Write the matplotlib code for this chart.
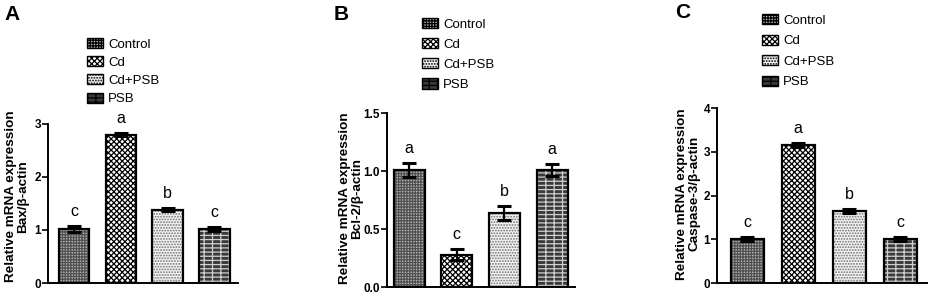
import matplotlib
matplotlib.use("Agg")
import matplotlib.pyplot as plt
import matplotlib.patches as mpatches


groups = ["Control", "Cd", "Cd+PSB", "PSB"]

bax_mean = [1.02, 2.80, 1.38, 1.02]
bax_err = [0.05, 0.03, 0.03, 0.04]
bax_letters = ["c", "a", "b", "c"]

bcl2_mean = [1.01, 0.28, 0.64, 1.01]
bcl2_err = [0.06, 0.05, 0.06, 0.05]
bcl2_letters = ["a", "c", "b", "a"]

casp3_mean = [1.01, 3.16, 1.65, 1.01]
casp3_err = [0.04, 0.04, 0.05, 0.05]
casp3_letters = ["c", "a", "b", "c"]

# face colour, hatch colour, hatch pattern per group
STYLES = [
    ("#b4b4b4", "#505050", "++++++"),
    ("white", "black", "xxxxxx"),
    ("#f4f4f4", "#707070", "......"),
    ("#3a3a3a", "#cfcfcf", "----||"),
]

plt.rcParams["font.family"] = ["Liberation Sans", "DejaVu Sans"]
plt.rcParams["hatch.linewidth"] = 0.9


def draw_panel(fig, rect, means, errs, letters, ylabel, label_xy, ylim, yticks,
               ytick_fmt, xlim, legend_xy, spacing, panel_label, panel_xy):
    ax = fig.add_axes(rect)
    x = list(range(len(groups)))

    for i, (face, hcol, hatch) in enumerate(STYLES):
        ax.bar(x[i], means[i], width=0.65, color=face, edgecolor=hcol,
               hatch=hatch, linewidth=0, zorder=2)
        ax.bar(x[i], means[i], width=0.65, fill=False, edgecolor="black",
               linewidth=1.6, zorder=3)

    ax.errorbar(x, means, yerr=errs, fmt="none", ecolor="black",
                elinewidth=1.6, capsize=5, capthick=2.2, zorder=4)

    for xi, m, e, lab in zip(x, means, errs, letters):
        ax.annotate(lab, (xi, m + e), xytext=(0, 5), textcoords="offset points",
                    ha="center", va="bottom", fontsize=11.5)

    ax.set_xlim(*xlim)
    ax.set_ylim(*ylim)
    ax.set_yticks(yticks)
    ax.set_yticklabels([ytick_fmt.format(t) for t in yticks],
                       fontsize=8.5, fontweight="bold")
    ax.set_xticks([])
    ax.spines["top"].set_visible(False)
    ax.spines["right"].set_visible(False)
    ax.spines["left"].set_linewidth(1.4)
    ax.spines["bottom"].set_linewidth(1.4)
    ax.tick_params(axis="y", direction="out", length=4, width=1.2, pad=1)
    ax.set_ylabel(ylabel, fontsize=9.7, fontweight="bold", linespacing=1.0)
    ax.yaxis.set_label_coords(*label_xy)

    handles = [mpatches.Patch(facecolor=f, edgecolor="black", hatch=h,
                              linewidth=1.0)
               for f, _, h in STYLES]
    fig.legend(handles, groups, loc="upper left", bbox_to_anchor=legend_xy,
               frameon=False, fontsize=9.5, handlelength=1.2,
               handleheight=0.8, handletextpad=0.4, labelspacing=spacing,
               borderpad=0, borderaxespad=0)

    fig.text(panel_xy[0], panel_xy[1], panel_label, fontsize=15,
             fontweight="bold", ha="left", va="center")
    return ax


fig = plt.figure(figsize=(9.35, 2.99), dpi=100)

draw_panel(fig, [0.0513, 0.0535, 0.203, 0.532], bax_mean, bax_err, bax_letters,
           "Relative mRNA expression\nBax/\u03b2-actin", (-0.1, 0.545),
           (0, 3), [0, 1, 2, 3], "{:g}", (-0.56, 3.5),
           (87 / 935, 1 - 38 / 299), 0.42, "A", (4 / 935, 1 - 15 / 299))

draw_panel(fig, [0.414, 0.040, 0.201, 0.582], bcl2_mean, bcl2_err, bcl2_letters,
           "Relative mRNA expression\nBcl-2/\u03b2-actin", (-0.13, 0.51),
           (0, 1.5), [0.0, 0.5, 1.0, 1.5], "{:.1f}", (-0.46, 3.48),
           (422 / 935, 1 - 18 / 299), 0.57, "B", (334 / 935, 1 - 15 / 299))

draw_panel(fig, [0.767, 0.0535, 0.2246, 0.585], casp3_mean, casp3_err,
           casp3_letters, "Relative mRNA expression\nCaspase-3/\u03b2-actin",
           (-0.08, 0.51), (0, 4), [0, 1, 2, 3, 4], "{:g}", (-0.59, 3.53),
           (762 / 935, 1 - 14 / 299), 0.6, "C", (675 / 935, 1 - 13 / 299))

fig.savefig("out.png", dpi=100)
